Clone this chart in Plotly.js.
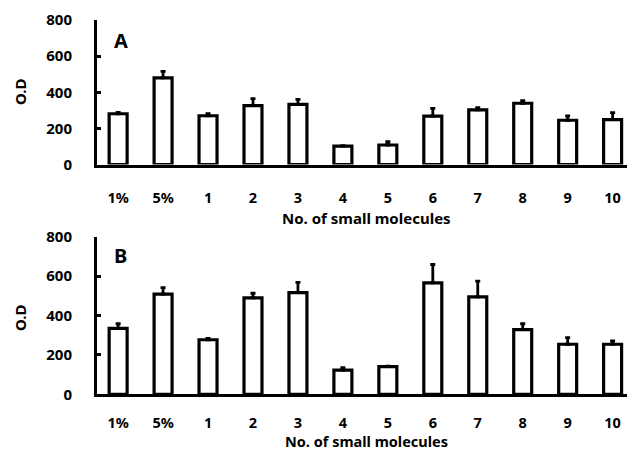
<!DOCTYPE html>
<html><head><meta charset="utf-8">
<script src="https://cdn.plot.ly/plotly-3.0.1.min.js"></script>
<style>html,body{margin:0;padding:0;background:#fff}#c{width:627px;height:453px}</style>
</head><body><div id="c"></div>
<script>
const categories = ["1%","5%","1","2","3","4","5","6","7","8","9","10"];
const valuesA = [281, 480, 270, 326, 333, 102, 108, 268, 302, 339, 245, 248];
const errorsA = [8, 36, 12, 39, 28, 3, 18, 43, 13, 15, 24, 39];
const valuesB = [335, 508, 277, 489, 516, 123, 140, 566, 495, 328, 254, 254];
const errorsB = [23, 34, 7, 24, 52, 12, 3, 93, 80, 30, 34, 17];
const yTicks = [0, 200, 400, 600, 800];

const FONT = "Noto Sans, DejaVu Sans, sans-serif";
function barTrace(vals, errs, xa, ya) {
  return {
    type: "bar", x: categories, y: vals, xaxis: xa, yaxis: ya,
    width: 0.4,
    marker: {color: "#ffffff", line: {color: "#000000", width: 3.2}},
    error_y: {type: "data", symmetric: false, array: errs, arrayminus: errs.map(() => 0),
              color: "#000000", thickness: 2.8, width: 2.5},
    hoverinfo: "skip", showlegend: false
  };
}
const xCommon = {
  type: "category", range: [-0.47, 11.32], showline: true, linecolor: "#000", linewidth: 3,
  ticks: "", showgrid: false, zeroline: false, fixedrange: true,
  tickfont: {family: FONT, size: 14.5, color: "#000", weight: "bold"},
  ticklabelstandoff: 18
};
const yCommon = {
  range: [0, 800], tickvals: yTicks, showline: true, linecolor: "#000", linewidth: 3,
  ticks: "inside", ticklen: 4, tickwidth: 3, tickcolor: "#000",
  showgrid: false, zeroline: false, fixedrange: true,
  tickfont: {family: FONT, size: 15, color: "#000", weight: "bold"},
  ticklabelstandoff: 19
};
const layout = {
  width: 627, height: 453, margin: {l: 0, r: 0, t: 0, b: 0},
  paper_bgcolor: "#fff", plot_bgcolor: "#fff",
  xaxis: Object.assign({}, xCommon, {domain: [97/627, 1], anchor: "y"}),
  yaxis: Object.assign({}, yCommon, {domain: [(453-164.5)/453, (453-20)/453], anchor: "x"}),
  xaxis2: Object.assign({}, xCommon, {domain: [97/627, 1], anchor: "y2", ticklabelstandoff: 13}),
  yaxis2: Object.assign({}, yCommon, {domain: [(453-394.3)/453, (453-236.7)/453], anchor: "x2"}),
  annotations: [
    {text: "A", xref: "paper", yref: "paper", x: 112/627, y: 1-40/453, xanchor: "left", yanchor: "middle", showarrow: false,
     font: {family: FONT, size: 20, color: "#000", weight: "bold"}},
    {text: "B", xref: "paper", yref: "paper", x: 112/627, y: 1-255/453, xanchor: "left", yanchor: "middle", showarrow: false,
     font: {family: FONT, size: 20, color: "#000", weight: "bold"}},
    {text: "O.D", xref: "paper", yref: "paper", x: 20/627, y: 1-92/453, textangle: -90, xanchor: "center", yanchor: "middle", showarrow: false,
     font: {family: FONT, size: 15, color: "#000", weight: "bold"}},
    {text: "O.D", xref: "paper", yref: "paper", x: 20/627, y: 1-318/453, textangle: -90, xanchor: "center", yanchor: "middle", showarrow: false,
     font: {family: FONT, size: 15, color: "#000", weight: "bold"}},
    {text: "No. of small molecules", xref: "paper", yref: "paper", x: 366/627, y: 1-218/453, xanchor: "center", yanchor: "middle", showarrow: false,
     font: {family: FONT, size: 15, color: "#000", weight: "bold"}},
    {text: "No. of small molecules", xref: "paper", yref: "paper", x: 366/627, y: 0, xanchor: "center", yanchor: "bottom", showarrow: false,
     font: {family: FONT, size: 14.5, color: "#000", weight: "bold"}}
  ]
};
Plotly.newPlot("c", [barTrace(valuesA, errorsA, "x", "y"), barTrace(valuesB, errorsB, "x2", "y2")], layout, {staticPlot: true, displayModeBar: false});
</script></body></html>
